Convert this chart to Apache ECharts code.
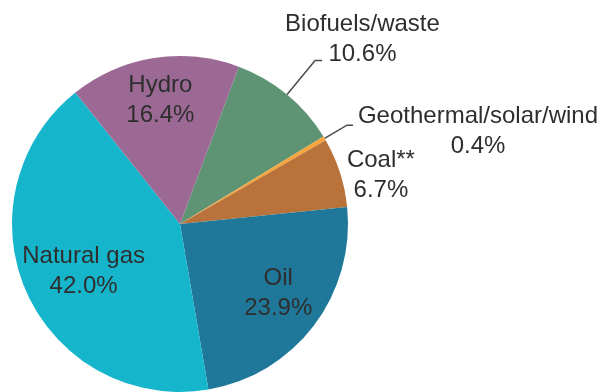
<!DOCTYPE html>
<html>
<head>
<meta charset="utf-8">
<script src="https://cdn.jsdelivr.net/npm/echarts@6/dist/echarts.min.js"></script>
<style>
  html, body { margin: 0; padding: 0; background: #ffffff; }
  #chart { width: 612px; height: 392px; }
</style>
</head>
<body>
<div id="chart"></div>
<script>
// Energy mix shares, listed clockwise from the top
const categories = ['Biofuels/waste', 'Geothermal/solar/wind', 'Coal**', 'Oil', 'Natural gas', 'Hydro'];
const shares = [10.6, 0.4, 6.7, 23.9, 42.0, 16.4];
const colors = ['#5e9474', '#f5a53c', '#b9733a', '#1f7899', '#15b6cc', '#9c6994'];

// How each label sits relative to its slice
const labelPlacement = ['outside', 'outside', 'outside', 'inside', 'inside', 'inside'];
const leaderShown = [true, true, false, false, false, false];
const leaderLength = [44, 26, 0, 0, 0, 0];
const leaderLength2 = [7, 6, 0, 0, 0, 0];
const labelNudge = [[-42, -21], [0, 6], [2, 3], [29, 17], [-17, 12], [-6, -38]];

const textColor = '#2e2e2e';
const font = '"Liberation Sans", Arial, Helvetica, sans-serif';

const chart = echarts.init(document.getElementById('chart'), null, { renderer: 'canvas' });

const seriesData = categories.map((name, i) => ({
  name: name,
  value: shares[i],
  itemStyle: { color: colors[i] },
  label: { position: labelPlacement[i] },
  labelLine: {
    show: leaderShown[i],
    length: leaderLength[i],
    length2: leaderLength2[i]
  }
}));

chart.setOption({
  animation: false,
  series: [{
    type: 'pie',
    center: [180, 224],
    radius: 168,
    startAngle: 69.5,
    clockwise: true,
    avoidLabelOverlap: false,
    itemStyle: { borderWidth: 0 },
    label: {
      show: true,
      distanceToLabelLine: 5,
      formatter: p => '{t|' + p.name + '}\n{t|' + p.value.toFixed(1) + '%}',
      rich: {
        t: {
          align: 'center',
          fontSize: 24,
          lineHeight: 30,
          color: textColor,
          fontFamily: font
        }
      }
    },
    labelLine: {
      smooth: false,
      lineStyle: { color: '#4a4a4a', width: 1.5 }
    },
    labelLayout: params => {
      const d = labelNudge[params.dataIndex];
      return { dx: d[0], dy: d[1] };
    },
    emphasis: { disabled: true },
    data: seriesData
  }]
});
</script>
</body>
</html>
